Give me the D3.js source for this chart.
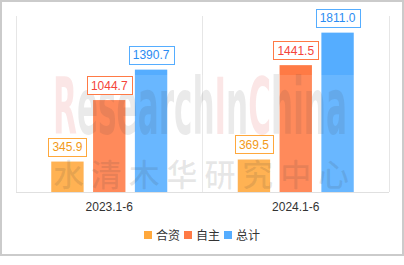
<!DOCTYPE html>
<html>
<head>
<meta charset="utf-8">
<script src="https://cdn.jsdelivr.net/npm/d3@7"></script>
<style>
  html, body { margin: 0; padding: 0; background: #fff; }
  svg { display: block; font-family: "Liberation Sans", Arial, "Noto Sans CJK SC", sans-serif; }
</style>
</head>
<body>
<div id="chart"></div>
<script>
const width = 404;
const height = 265;

// data
const categories = ["2023.1-6", "2024.1-6"];
const seriesNames = ["合资", "自主", "总计"];
const jointVenture = [345.9, 369.5];
const domestic = [1044.7, 1441.5];
const total = [1390.7, 1811.0];
const yMax = 2000;

const seriesValues = [jointVenture, domestic, total];
const barColors = ["#ffa83c", "#ff7a45", "#55adff"];
const labelColors = ["#f29a1a", "#f5443a", "#2b8cf2"];

const svg = d3.select("#chart")
  .append("svg")
  .attr("width", width)
  .attr("height", height);

// outer frame
svg.append("rect")
  .attr("x", 1).attr("y", 1)
  .attr("width", 402).attr("height", 254)
  .attr("fill", "#fff")
  .attr("stroke", "#cbcbcb")
  .attr("stroke-width", 2);

const x0 = d3.scaleBand()
  .domain(categories)
  .range([16, 389]);

const x1 = d3.scaleBand()
  .domain(seriesNames)
  .range([-58, 58])
  .paddingInner(0.226);

const y = d3.scaleLinear()
  .domain([0, yMax])
  .range([192, 16]);

// split lines between categories
const splits = categories.map(c => x0(c)).concat([x0.range()[1]]);
svg.selectAll(".split")
  .data(splits)
  .enter().append("line")
  .attr("class", "split")
  .attr("x1", d => d).attr("x2", d => d)
  .attr("y1", y(yMax)).attr("y2", y(0))
  .attr("stroke", "#e6e6e6")
  .attr("stroke-width", 1)
  .attr("shape-rendering", "crispEdges");

svg.append("line")
  .attr("x1", x0.range()[0]).attr("x2", x0.range()[1])
  .attr("y1", y(0)).attr("y2", y(0))
  .attr("stroke", "#e0e0e0")
  .attr("shape-rendering", "crispEdges");

// bars
const barData = [];
categories.forEach((c, i) => {
  seriesNames.forEach((s, j) => {
    barData.push({ cat: c, name: s, idx: j, value: seriesValues[j][i] });
  });
});

const cx = d => x0(d.cat) + x0.bandwidth() / 2 + x1(d.name);

svg.selectAll(".bar")
  .data(barData)
  .enter().append("rect")
  .attr("class", "bar")
  .attr("x", cx)
  .attr("y", d => y(d.value))
  .attr("width", x1.bandwidth())
  .attr("height", d => y(0) - y(d.value))
  .attr("fill", d => barColors[d.idx]);

// watermark
const wm = svg.append("g").attr("class", "watermark");
wm.append("rect")
  .attr("x", 48).attr("y", 75)
  .attr("width", 308).attr("height", y(0) - 75)
  .attr("fill", "#fff")
  .attr("opacity", 0.12);

// tall condensed lettering: narrow font stretched vertically
const stretch = 1.75;
const wmText = wm.append("text")
  .attr("transform", `scale(1,${stretch})`)
  .attr("x", 53)
  .attr("y", 134 / stretch)
  .attr("textLength", 294)
  .attr("lengthAdjust", "spacingAndGlyphs")
  .style("font-family", "'Liberation Sans Narrow', 'DejaVu Sans Condensed', 'Liberation Sans', sans-serif")
  .style("font-weight", "bold")
  .style("font-size", "45px");
[["R", true], ["esearch", false], ["I", true], ["n", false], ["C", true], ["hina", false]]
  .forEach(([t, red]) => {
    wmText.append("tspan")
      .attr("fill", red ? "rgba(215,30,30,0.11)" : "rgba(60,60,60,0.11)")
      .text(t);
  });

wm.append("text")
  .attr("x", 53)
  .attr("y", 186)
  .attr("textLength", 296)
  .attr("lengthAdjust", "spacing")
  .attr("fill", "rgba(60,60,60,0.12)")
  .style("font-family", "'Noto Sans CJK SC', sans-serif")
  .style("font-weight", "500")
  .style("font-size", "31px")
  .text("水清木华研究中心");

// value labels in boxes
const labels = svg.selectAll(".vlabel")
  .data(barData)
  .enter().append("g")
  .attr("class", "vlabel");

labels.each(function (d) {
  const g = d3.select(this);
  const centerX = cx(d) + x1.bandwidth() / 2;
  const boxBottom = y(d.value) - 6;
  const txt = g.append("text")
    .attr("x", centerX)
    .attr("y", boxBottom - 4.5)
    .attr("text-anchor", "middle")
    .attr("fill", labelColors[d.idx])
    .style("font-size", "12px")
    .text(d.value.toFixed(1));
  const w = txt.node().getComputedTextLength() + 8;
  g.insert("rect", "text")
    .attr("x", Math.round(centerX - w / 2) + 0.5)
    .attr("y", Math.round(boxBottom - 18) + 0.5)
    .attr("width", Math.round(w))
    .attr("height", 18)
    .attr("fill", "#fff")
    .attr("stroke", barColors[d.idx])
    .attr("stroke-width", 1);
});

// category labels
svg.selectAll(".cat")
  .data(categories)
  .enter().append("text")
  .attr("class", "cat")
  .attr("x", d => x0(d) + x0.bandwidth() / 2)
  .attr("y", 211)
  .attr("text-anchor", "middle")
  .attr("fill", "#333")
  .style("font-size", "12px")
  .text(d => d);

// legend
const legend = svg.selectAll(".legend")
  .data(seriesNames)
  .enter().append("g")
  .attr("class", "legend")
  .attr("transform", (d, i) => `translate(${144 + i * 40},231)`);

legend.append("rect")
  .attr("width", 8).attr("height", 8)
  .attr("fill", (d, i) => barColors[i]);

legend.append("text")
  .attr("x", 12)
  .attr("y", 8.5)
  .attr("fill", "#333")
  .style("font-family", "'Noto Sans CJK SC', sans-serif")
  .style("font-size", "12px")
  .text(d => d);
</script>
</body>
</html>
